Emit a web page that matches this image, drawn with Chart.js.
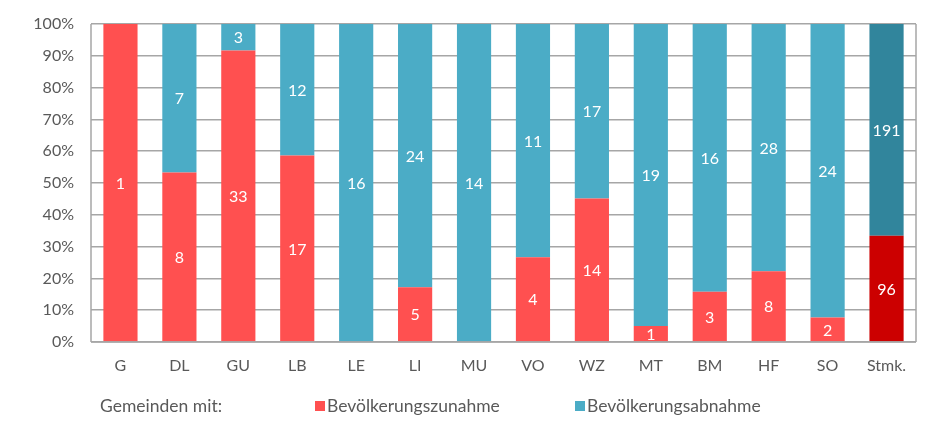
<!DOCTYPE html>
<html><head><meta charset="utf-8">
<script src="https://cdn.jsdelivr.net/npm/chart.js@4"></script>
<style>html,body{margin:0;padding:0;background:#fff}#w{width:944px;height:435px}</style>
</head><body><div id="w"><canvas id="c"></canvas></div>
<script>
const categories = ['G','DL','GU','LB','LE','LI','MU','VO','WZ','MT','BM','HF','SO','Stmk.'];
const zunahme = [1,8,33,17,0,5,0,4,14,1,3,8,2,96];
const abnahme = [0,7,3,12,16,24,14,11,17,19,16,28,24,191];
const seriesNames = ['Bevölkerungszunahme','Bevölkerungsabnahme'];
const legendTitle = 'Gemeinden mit:';
const yTicks = [0,10,20,30,40,50,60,70,80,90,100];

const FONT = 'Lato, "Open Sans", sans-serif';
const totals = categories.map((_, i) => zunahme[i] + abnahme[i]);
const pctZ = zunahme.map((v, i) => v / totals[i] * 100);
const pctA = abnahme.map((v, i) => v / totals[i] * 100);
const counts = [zunahme, abnahme];

const red = '#FF5050', redDark = '#CC0000', blue = '#4BACC6', blueDark = '#31859C';
const colZ = categories.map((_, i) => i === categories.length - 1 ? redDark : red);
const colA = categories.map((_, i) => i === categories.length - 1 ? blueDark : blue);

const labelPlugin = {
  id: 'vals',
  afterDatasetsDraw(chart) {
    const ctx = chart.ctx;
    ctx.save();
    ctx.fillStyle = '#fff';
    ctx.font = '16px ' + FONT;
    ctx.textAlign = 'center';
    ctx.textBaseline = 'middle';
    chart.data.datasets.forEach((ds, di) => {
      chart.getDatasetMeta(di).data.forEach((el, i) => {
        const v = counts[di][i];
        if (!v) return;
        const y = (el.y + el.base) / 2;
        ctx.fillText(String(v), el.x, y + 1);
      });
    });
    ctx.restore();
  }
};

const framePlugin = {
  id: 'frame',
  afterDatasetsDraw(chart) {
    const a = chart.chartArea, ctx = chart.ctx;
    ctx.save();
    ctx.strokeStyle = '#A6A6A6';
    ctx.lineWidth = 1.5;
    ctx.beginPath();
    ctx.moveTo(a.right, a.top); ctx.lineTo(a.right, a.bottom);
    ctx.moveTo(a.left, a.top); ctx.lineTo(a.left, a.bottom);
    ctx.moveTo(a.left, a.bottom); ctx.lineTo(a.right, a.bottom);
    ctx.stroke();
    ctx.restore();
  }
};

const legendPlugin = {
  id: 'customLegend',
  afterDraw(chart) {
    const ctx = chart.ctx;
    ctx.save();
    ctx.font = '17.5px ' + FONT;
    ctx.fillStyle = '#595959';
    ctx.textBaseline = 'middle';
    ctx.textAlign = 'left';
    const y = 406;
    ctx.fillText(legendTitle, 100, y);
    const items = [[315, red, seriesNames[0]], [575, blue, seriesNames[1]]];
    items.forEach(([x, c, t]) => {
      ctx.fillStyle = c;
      ctx.fillRect(x, y - 5, 10, 10);
      ctx.fillStyle = '#595959';
      ctx.fillText(t, x + 12, y);
    });
    ctx.restore();
  }
};

new Chart(document.getElementById('c'), {
  type: 'bar',
  data: {
    labels: categories,
    datasets: [
      { label: seriesNames[0], data: pctZ, backgroundColor: colZ, barPercentage: 0.58, categoryPercentage: 1 },
      { label: seriesNames[1], data: pctA, backgroundColor: colA, barPercentage: 0.58, categoryPercentage: 1 }
    ]
  },
  options: {
    responsive: true,
    maintainAspectRatio: false,
    animation: false,
    layout: { padding: { top: 24, right: 28, left: 0, bottom: 0 } },
    plugins: { legend: { display: false }, tooltip: { enabled: false } },
    scales: {
      x: {
        stacked: true,
        grid: { display: false, drawTicks: false },
        border: { display: false },
        ticks: { color: '#595959', font: { family: FONT, size: 16 }, padding: 14 },
        afterFit(s) { s.height = 93; s.paddingLeft = 0; s.paddingRight = 0; }
      },
      y: {
        stacked: true,
        min: 0, max: 100,
        afterBuildTicks(s) { s.ticks = yTicks.map(v => ({ value: v })); },
        grid: { color: '#A6A6A6', lineWidth: 1.5, drawTicks: false },
        border: { display: false },
        ticks: { color: '#595959', font: { family: FONT, size: 16 }, padding: 17, callback: v => v + '%' },
        afterFit(s) { s.width = 91; s.paddingTop = 0; s.paddingBottom = 0; }
      }
    }
  },
  plugins: [labelPlugin, framePlugin, legendPlugin]
});
</script>
</body></html>
